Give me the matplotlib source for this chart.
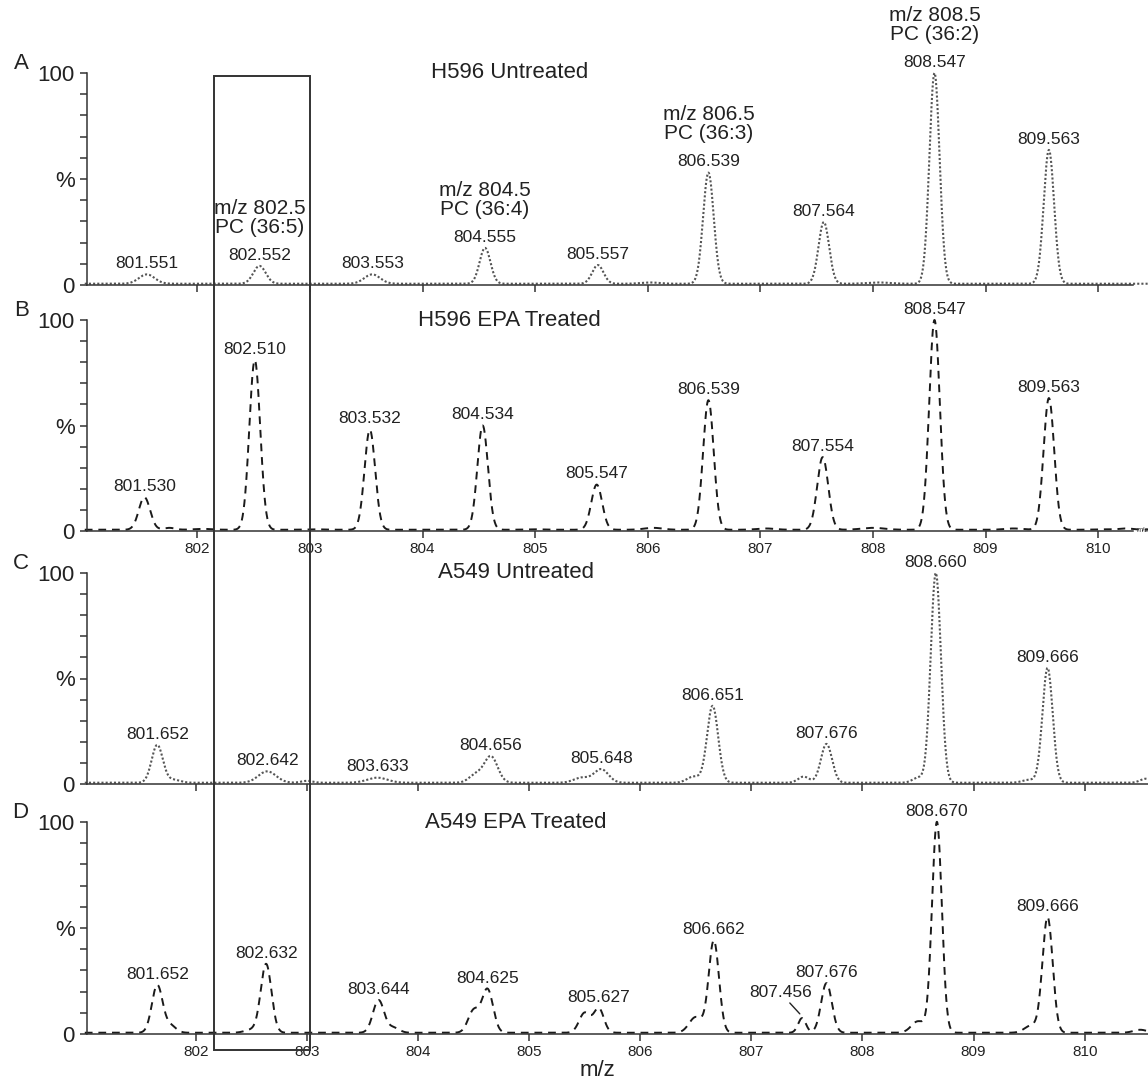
import numpy as np
import matplotlib.pyplot as plt
from matplotlib.patches import Rectangle
from matplotlib.transforms import blended_transform_factory

plt.rcParams['font.family'] = ['Liberation Sans', 'DejaVu Sans']

# labelled peaks: centroid m/z, relative intensity (%), peak width (sigma, m/z)
a_mz = [801.551, 802.552, 803.553, 804.555, 805.557, 806.539, 807.564, 808.547, 809.563]
a_int = [5, 9, 5, 17.5, 9.4, 53, 29.7, 100, 63.7]
a_sig = [0.07, 0.055, 0.07, 0.048, 0.05, 0.047, 0.047, 0.045, 0.046]

b_mz = [801.530, 802.510, 803.532, 804.534, 805.547, 806.539, 807.554, 808.547, 809.563]
b_int = [16, 81, 48, 50, 22, 62, 35, 100, 63]
b_sig = [0.05, 0.048, 0.047, 0.047, 0.048, 0.047, 0.049, 0.047, 0.047]

c_mz = [801.652, 802.642, 803.633, 804.656, 805.648, 806.651, 807.676, 808.660, 809.666]
c_int = [18.5, 6, 3, 13, 7, 37, 19, 100, 55]
c_sig = [0.05, 0.08, 0.09, 0.06, 0.065, 0.05, 0.05, 0.046, 0.046]

d_mz = [801.652, 802.632, 803.644, 804.625, 805.627, 806.662, 807.456, 807.676, 808.670, 809.666]
d_int = [23, 33, 16, 21, 12, 44, 7.5, 24, 100, 55]
d_sig = [0.048, 0.048, 0.05, 0.05, 0.045, 0.046, 0.035, 0.048, 0.044, 0.046]

# unlabelled shoulders and baseline bumps: (m/z, intensity %, sigma)
a_minor = [(806.02, 1.2, 0.08), (807.1, 0.6, 0.08), (808.05, 1.2, 0.1), (809.05, 0.6, 0.08)]
b_minor = [(801.75, 1.5, 0.05), (802.05, 1.0, 0.08), (803.05, 0.8, 0.08), (805.0, 0.8, 0.08),
           (806.05, 1.5, 0.08), (807.05, 1.2, 0.08), (808.0, 1.5, 0.1), (809.25, 1.2, 0.08),
           (810.05, 0.8, 0.08), (810.25, 1.2, 0.06)]
c_minor = [(801.8, 2.0, 0.06), (803.0, 1.5, 0.05), (804.52, 4.5, 0.06), (805.47, 3.0, 0.07),
           (806.48, 3.5, 0.06), (807.47, 3.5, 0.05), (808.5, 3.0, 0.05), (809.5, 2.0, 0.06),
           (810.55, 2.5, 0.05)]
d_minor = [(801.77, 4.0, 0.05), (802.5, 2.0, 0.06), (803.78, 3.0, 0.05), (804.5, 11.0, 0.05),
           (805.5, 10.0, 0.05), (806.5, 8.0, 0.06), (808.5, 6.0, 0.06), (809.52, 4.0, 0.06),
           (810.5, 2.0, 0.06)]

titles = ['H596 Untreated', 'H596 EPA Treated', 'A549 Untreated', 'A549 EPA Treated']
letters = ['A', 'B', 'C', 'D']

# species notes over panel A peaks
note_mz = [802.552, 804.555, 806.539, 808.547]
note_txt = ['m/z 802.5\nPC (36:5)', 'm/z 804.5\nPC (36:4)', 'm/z 806.5\nPC (36:3)',
            'm/z 808.5\nPC (36:2)']

box_mz = (802.15, 803.0)

W, H = 1148, 1083
fig = plt.figure(figsize=(W / 100, H / 100), dpi=100)

# panel rectangles in pixels: (left, top, right, bottom) of the plotting area
rects = [(87, 73, 1133, 285), (87, 320, 1133, 531), (87, 573, 1148, 784), (87, 822, 1148, 1034)]
xlims = [(801.02, 810.31), (801.02, 810.31), (801.02, 810.57), (801.02, 810.57)]

panels = [(a_mz, a_int, a_sig, a_minor), (b_mz, b_int, b_sig, b_minor),
          (c_mz, c_int, c_sig, c_minor), (d_mz, d_int, d_sig, d_minor)]
styles = [dict(color='#555555', ls=(0, (1, 1)), lw=1.5),
          dict(color='#1a1a1a', ls=(0, (4, 3)), lw=1.4),
          dict(color='#555555', ls=(0, (1, 1)), lw=1.5),
          dict(color='#1a1a1a', ls=(0, (4, 3)), lw=1.4)]

x = np.arange(801.0, 810.6, 0.002)
base = 0.6


def profile(mz, inten, sig, minor):
    y = np.full_like(x, base)
    for m, h, s in list(zip(mz, inten, sig)) + list(minor):
        y += (h - base) * np.exp(-0.5 * ((x - m) / s) ** 2)
    return y


axes = []
for i, (r, xl, (mz, inten, sig, minor), st) in enumerate(zip(rects, xlims, panels, styles)):
    l, t, rr, b = r
    ax = fig.add_axes([l / W, 1 - b / H, (rr - l) / W, (b - t) / H])
    axes.append(ax)
    ax.plot(x, profile(mz, inten, sig, minor), clip_on=False, **st)
    ax.set_xlim(*xl)
    ax.set_ylim(0, 100)
    for s in ['top', 'right']:
        ax.spines[s].set_visible(False)
    for s in ['left', 'bottom']:
        ax.spines[s].set_linewidth(1.1)
        ax.spines[s].set_color('#333333')
    ax.set_xticks(range(802, 811))
    ax.set_yticks([0, 50, 100])
    ax.set_yticklabels(['0', '%', '100'])
    ax.set_yticks(range(0, 101, 10), minor=True)
    ax.tick_params(axis='y', which='both', length=5, width=1.1, color='#333333',
                   labelsize=16, pad=4, labelcolor='#222222')
    ax.tick_params(axis='x', length=5, width=1.1, color='#333333', labelsize=11,
                   pad=3, labelbottom=(i % 2 == 1), labelcolor='#222222')
    ax.patch.set_visible(False)

    for m, h in zip(mz, inten):
        lab = '%.3f' % m
        if lab == '807.456':
            ax.annotate(lab, xy=(m - 0.02, h + 2), xytext=(-14, 12), textcoords='offset points',
                        ha='center', va='baseline', fontsize=12.5, color='#222222',
                        arrowprops=dict(arrowstyle='-', color='#222222', lw=1.0,
                                        shrinkA=0, shrinkB=0))
            continue
        ax.annotate(lab, xy=(m, h), xytext=(0, 4.5), textcoords='offset points',
                    ha='center', va='baseline', fontsize=12.5, color='#222222',
                    annotation_clip=False)

    ax.text(0.404, 1.0, titles[i], transform=ax.transAxes, ha='center', va='center',
            fontsize=16, color='#222222')
    ax.text(-0.0625, 1.045, letters[i], transform=ax.transAxes, ha='center', va='center',
            fontsize=16, color='#222222')

# species notes on panel A
for m, txt in zip(note_mz, note_txt):
    h = a_int[a_mz.index(m)]
    axes[0].annotate(txt, xy=(m, h), xytext=(0, 21), textcoords='offset points',
                     ha='center', va='bottom', fontsize=15, linespacing=1.0,
                     color='#222222', annotation_clip=False)

# axis unit stub at right end of panel B
axes[1].text(1.003, 0.0, 'm/z', transform=axes[1].transAxes, ha='left', va='center',
             fontsize=5.5, color='#333333', clip_on=False)

fig.text(597 / W, 1 - 1070 / H, 'm/z', ha='center', va='center', fontsize=16,
         color='#222222')

# highlight box across all four panels
tr = blended_transform_factory(axes[1].transData, fig.transFigure)
y0, y1 = 1 - 1050 / H, 1 - 76 / H
fig.add_artist(Rectangle((box_mz[0], y0), box_mz[1] - box_mz[0], y1 - y0, transform=tr,
                         fill=False, lw=1.4, ec='#333333'))

fig.savefig('out.png', dpi=100)
